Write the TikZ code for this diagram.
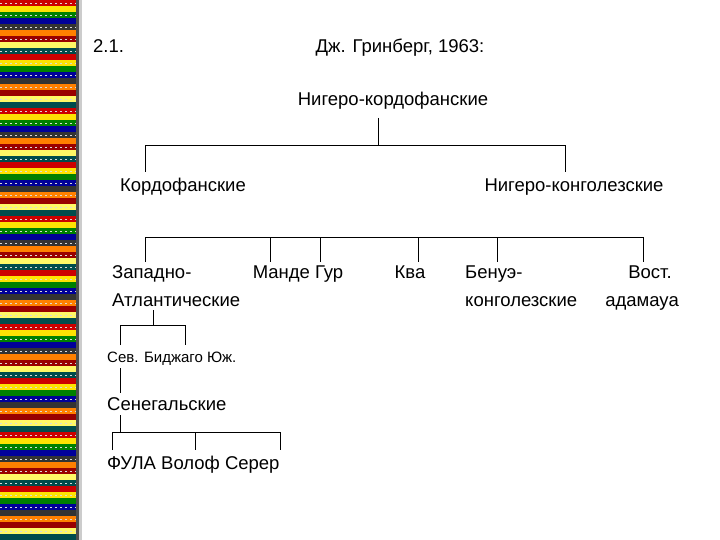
\documentclass[tikz,border=0pt]{standalone}
\usepackage{fontspec}
\setmainfont{Liberation Sans}
\begin{document}
\begin{tikzpicture}[x=1pt,y=-1pt,
  lbl/.style={inner sep=0pt,font=\fontsize{18.5}{20}\selectfont},
  sml/.style={inner sep=0pt,font=\fontsize{15}{16}\selectfont},
  ln/.style={draw=black,line width=0.8pt}]
\useasboundingbox (0,0) rectangle (720,540);
\fill[white] (0,0) rectangle (720,540);
% woven border
\foreach \i in {0,...,89}{
  \pgfmathtruncatemacro{\m}{mod(\i,9)}
  \ifcase\m \def\c{red!80!black}\or \def\c{yellow!85!orange}\or \def\c{green!50!black}\or \def\c{blue!60!black}\or \def\c{black!80}\or \def\c{orange}\or \def\c{red!60!black}\or \def\c{yellow!60!white}\else \def\c{teal!60!black}\fi
  \fill[\c] (0,\i*6) rectangle (76,\i*6+6);
}
\foreach \y in {0,12,...,540}{\draw[white!70!gray,line width=0.6pt,dash pattern=on 2pt off 3pt] (0,\y+3) -- (76,\y+3);}
\fill[black!70] (76,0) rectangle (79,540);
\fill[gray!40] (79,0) rectangle (82,540);

\node[lbl,anchor=base west] (t1) at (93,53) {2.1.};
\node[lbl,anchor=base] (t2) at (400,53) {Дж. Гринберг, 1963:};
\node[lbl,anchor=base] (nk) at (393,106) {Нигеро-кордофанские};
\node[lbl,anchor=base] (kf) at (183,192) {Кордофанские};
\node[lbl,anchor=base] (nc) at (574,192) {Нигеро-конголезские};
\node[lbl,anchor=base west] (wa) at (112,278) {Западно-};
\node[lbl,anchor=base west] (wa2) at (112,306) {Атлантические};
\node[lbl,anchor=base] (mg) at (298,278) {Манде Гур};
\node[lbl,anchor=base] (kva) at (410,278) {Ква};
\node[lbl,anchor=base west] (bk) at (465,278) {Бенуэ-};
\node[lbl,anchor=base west] (bk2) at (465,306) {конголезские};
\node[lbl,anchor=base east] (va) at (672,278) {Вост.};
\node[lbl,anchor=base east] (va2) at (679,306) {адамауа};
\node[sml,anchor=base west] (sb) at (107,362) {Сев. Биджаго Юж.};
\node[lbl,anchor=base west] (sn) at (107,410) {Сенегальские};
\node[lbl,anchor=base west] (fv) at (107,469) {ФУЛА Волоф Серер};

\coordinate (a) at (378,118);
\draw[ln] (a) -- (378,145);
\draw[ln] (145,172) -- (145,145) -- (565,145) -- (565,172);
\draw[ln] (145,262) -- (145,237) -- (643,237) -- (643,262);
\foreach \x in {270,320,418,497}{\draw[ln] (\x,237) -- (\x,262);}
\draw[ln] (153,310) -- (153,325);
\draw[ln] (120,345) -- (120,325) -- (185,325) -- (185,345);
\draw[ln] (120,368) -- (120,393);
\draw[ln] (120,415) -- (120,432);
\draw[ln] (112,450) -- (112,432) -- (280,432) -- (280,450);
\draw[ln] (195,432) -- (195,450);
\end{tikzpicture}
\end{document}
